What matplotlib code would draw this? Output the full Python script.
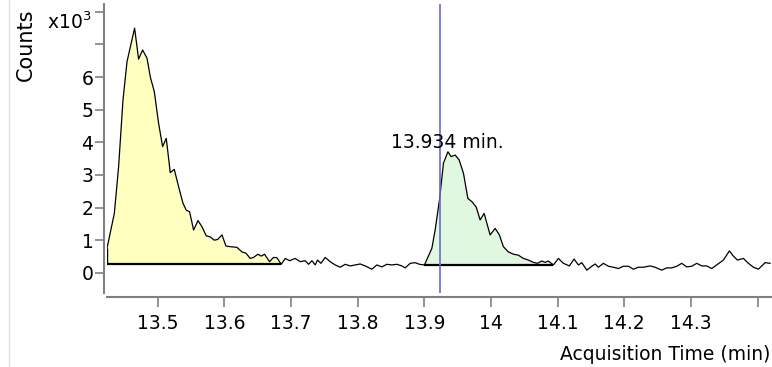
import matplotlib
matplotlib.use("Agg")
import matplotlib.pyplot as plt
from matplotlib.lines import Line2D
import numpy as np

# Chromatogram trace (acquisition time in min, counts in x10^3)
time = [
    13.4241, 13.4351, 13.4415, 13.4481, 13.4541, 13.4655, 13.4715, 13.4775, 13.4841, 13.4891,
    13.4951, 13.5015, 13.5075, 13.5130, 13.5190, 13.5250, 13.5315, 13.5381, 13.5430, 13.5480,
    13.5540, 13.5606, 13.5666, 13.5730, 13.5790, 13.5850, 13.5900, 13.5966, 13.6025, 13.6090,
    13.6190, 13.6265, 13.6325, 13.6390, 13.6439, 13.6505, 13.6555, 13.6604, 13.6679, 13.6739,
    13.6790, 13.6855, 13.6915, 13.6979, 13.7064, 13.7139, 13.7214, 13.7264, 13.7315, 13.7364,
    13.7399, 13.7450, 13.7514, 13.7589, 13.7664, 13.7739, 13.7814, 13.7889, 13.7964, 13.8039,
    13.8114, 13.8214, 13.8289, 13.8364, 13.8439, 13.8514, 13.8589, 13.8664, 13.8714, 13.8789,
    13.8864, 13.8928, 13.9003, 13.9114, 13.9163, 13.9228, 13.9288, 13.9355, 13.9403, 13.9463,
    13.9523, 13.9588, 13.9654, 13.9714, 13.9778, 13.9838, 13.9898, 13.9988, 14.0063, 14.0127,
    14.0187, 14.0262, 14.0337, 14.0412, 14.0487, 14.0562, 14.0637, 14.0697, 14.0763, 14.0813,
    14.0862, 14.0937, 14.1012, 14.1087, 14.1177, 14.1247, 14.1312, 14.1363, 14.1438, 14.1513,
    14.1562, 14.1612, 14.1687, 14.1762, 14.1837, 14.1912, 14.1987, 14.2062, 14.2137, 14.2211,
    14.2286, 14.2387, 14.2462, 14.2562, 14.2637, 14.2712, 14.2787, 14.2862, 14.2937, 14.3012,
    14.3087, 14.3162, 14.3237, 14.3312, 14.3387, 14.3487, 14.3577, 14.3637, 14.3697, 14.3787,
    14.3862, 14.3937, 14.4012, 14.4112, 14.4187,
]
counts = [
    0.75, 1.82, 3.25, 5.30, 6.47, 7.50, 6.55, 6.83, 6.58, 6.00,
    5.55, 4.58, 3.87, 4.12, 3.07, 3.17, 2.64, 2.13, 1.92, 1.87,
    1.31, 1.60, 1.41, 1.13, 1.10, 1.00, 1.02, 1.16, 0.82, 0.80,
    0.78, 0.64, 0.60, 0.44, 0.47, 0.57, 0.51, 0.57, 0.34, 0.47,
    0.46, 0.26, 0.44, 0.37, 0.44, 0.34, 0.37, 0.26, 0.37, 0.24,
    0.39, 0.29, 0.47, 0.34, 0.24, 0.17, 0.26, 0.21, 0.24, 0.27,
    0.21, 0.11, 0.24, 0.18, 0.26, 0.24, 0.26, 0.21, 0.15, 0.29,
    0.31, 0.26, 0.24, 0.75, 1.31, 2.23, 3.36, 3.71, 3.56, 3.61,
    3.46, 3.05, 2.28, 2.18, 2.02, 1.62, 1.82, 1.16, 1.36, 1.16,
    0.80, 0.64, 0.57, 0.54, 0.44, 0.39, 0.32, 0.29, 0.36, 0.32,
    0.36, 0.24, 0.44, 0.29, 0.21, 0.42, 0.24, 0.31, 0.08, 0.20,
    0.27, 0.17, 0.29, 0.20, 0.17, 0.13, 0.20, 0.20, 0.11, 0.17,
    0.17, 0.21, 0.17, 0.08, 0.15, 0.15, 0.20, 0.29, 0.18, 0.20,
    0.29, 0.21, 0.21, 0.13, 0.24, 0.39, 0.67, 0.51, 0.39, 0.44,
    0.29, 0.17, 0.11, 0.31, 0.29,
]

# integrated peaks: (start, end, baseline level, fill colour)
peak_starts = [13.4241, 13.9003]
peak_ends = [13.6855, 14.0937]
peak_base = [0.26, 0.24]
peak_colors = ["#ffffc0", "#e0f8e0"]

marker_time = 13.924
marker_label = "13.934 min."

x_ticks = [13.5, 13.6, 13.7, 13.8, 13.9, 14.0, 14.1, 14.2, 14.3, 14.4]
x_labels = ["13.5", "13.6", "13.7", "13.8", "13.9", "14", "14.1", "14.2", "14.3", ""]
y_ticks = [0, 1, 2, 3, 4, 5, 6, 7, 8]
y_labels = ["0", "1", "2", "3", "4", "5", "6", "", ""]

W, H = 772, 367
fs = 13.5
fig = plt.figure(figsize=(W / 100, H / 100), dpi=100)
ax = fig.add_axes([107 / W, 74 / H, 665 / W, 289 / H])

t = np.array(time)
c = np.array(counts)

# filled peaks with baselines
for t0, t1, b, col in zip(peak_starts, peak_ends, peak_base, peak_colors):
    m = (t >= t0 - 1e-9) & (t <= t1 + 1e-9)
    ax.fill_between(t[m], b, c[m], color=col, linewidth=0)
    ax.plot([t0, t1], [b, b], color="black", lw=1.6, solid_capstyle="butt")

ax.vlines(t[0], peak_base[0], c[0], color="black", lw=1)
ax.plot(t, c, color="black", lw=0.9)

# retention time marker
ax.axvline(marker_time, color="#6a6acd", lw=1.2)
ax.text(13.934, 3.98, marker_label, ha="center", va="center", fontsize=fs)

ax.set_xlim(13.4241, 14.4216)
ax.set_ylim(-0.62, 8.24)

for s in ["top", "right"]:
    ax.spines[s].set_visible(False)
ax.spines["left"].set_position(("outward", 2.2))
ax.spines["bottom"].set_position(("outward", 2.9))
for s in ["left", "bottom"]:
    ax.spines[s].set_color("#808080")
    ax.spines[s].set_linewidth(1.5)

ax.set_xticks(x_ticks)
ax.set_xticklabels(x_labels)
ax.set_yticks(y_ticks)
ax.set_yticklabels(y_labels)
ax.tick_params(axis="both", direction="out", color="#808080", width=1.2,
               labelsize=fs, labelcolor="black")
ax.tick_params(axis="x", length=7, pad=5)
ax.tick_params(axis="y", length=6.5, pad=1)

fig.text(91 / W, 1 - 29 / H, r"x10$^3$", ha="right", va="baseline", fontsize=fs)
fig.text(26 / W, 1 - 45 / H, "Counts", rotation=90, ha="center", va="center", fontsize=15)
fig.text(770 / W, 1 - 355 / H, "Acquisition Time (min)", ha="right", va="center", fontsize=fs)

fig.add_artist(Line2D([8.5 / W, 8.5 / W], [0, 1], color="#e4e4e4", lw=1))

fig.savefig("out.png", dpi=100)
